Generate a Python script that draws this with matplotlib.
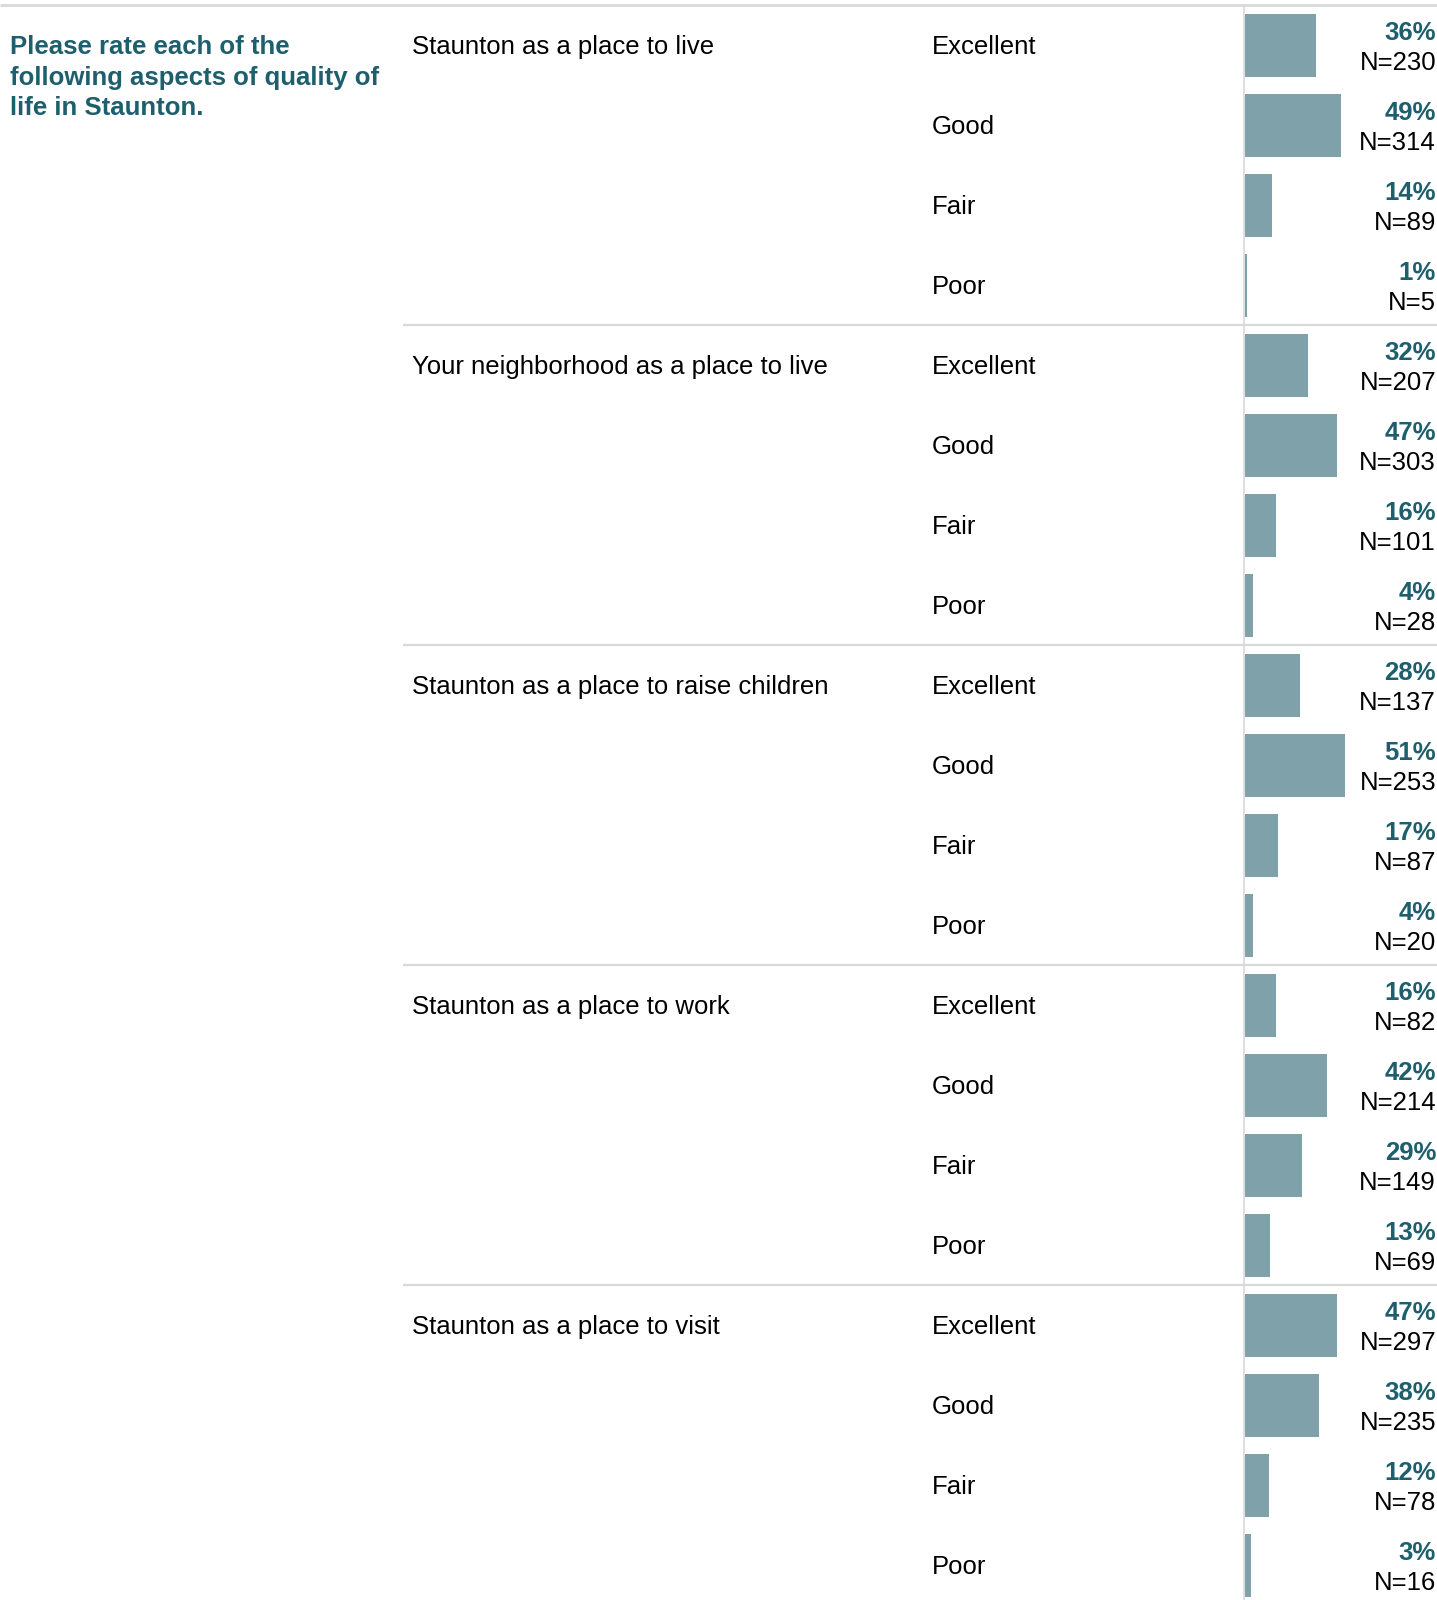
import matplotlib
matplotlib.use("Agg")
import matplotlib.pyplot as plt

plt.rcParams['font.family'] = ['Liberation Sans', 'DejaVu Sans']

title_lines = ["Please rate each of the",
               "following aspects of quality of",
               "life in Staunton."]

questions = [
    "Staunton as a place to live",
    "Your neighborhood as a place to live",
    "Staunton as a place to raise children",
    "Staunton as a place to work",
    "Staunton as a place to visit",
]
ratings = ["Excellent", "Good", "Fair", "Poor"]

pct = [
    [36, 49, 14, 1],
    [32, 47, 16, 4],
    [28, 51, 17, 4],
    [16, 42, 29, 13],
    [47, 38, 12, 3],
]
counts = [
    [230, 314, 89, 5],
    [207, 303, 101, 28],
    [137, 253, 87, 20],
    [82, 214, 149, 69],
    [297, 235, 78, 16],
]

W, H = 1437, 1600
BAR_COLOR = "#7fa2aa"
TEAL = "#1d5f6d"
GRID = "#d9d9d9"
FS = 18.5

TOP = 5       # y of the top rule
ROW = 80      # pixel height of one answer row
BAR_H = 63

fig = plt.figure(figsize=(W / 100, H / 100), dpi=100)

# full-figure axes in pixel units for texts and rules
ax = fig.add_axes([0, 0, 1, 1])
ax.set_xlim(0, W)
ax.set_ylim(H, 0)
ax.axis("off")

# bar axes: 0..100 % spans 196 px starting at the vertical rule
x0 = 1245
bx = fig.add_axes([x0 / W, 0, 196 / W, 1])
bx.set_xlim(0, 100)
bx.set_ylim(H, 0)
bx.axis("off")

for k, line in enumerate(title_lines):
    ax.text(10, 54 + k * 30.5, line, fontsize=FS, fontweight="bold", color=TEAL,
            ha="left", va="baseline")

ax.plot([0, W], [TOP, TOP], color=GRID, lw=2, solid_capstyle="butt")
ax.plot([x0 - 1, x0 - 1], [TOP, H], color=GRID, lw=1.2)

for g, q in enumerate(questions):
    g_top = TOP + g * 4 * ROW
    if g > 0:
        ax.plot([403, W], [g_top, g_top], color=GRID, lw=1.6, solid_capstyle="butt")
    ax.text(412, g_top + ROW / 2 + 9, q, fontsize=FS, color="black", ha="left", va="baseline")
    ys = [g_top + ROW / 2 + i * ROW for i in range(4)]
    bx.barh(ys, pct[g], height=BAR_H, color=BAR_COLOR, left=0)
    for i, r in enumerate(ratings):
        y = ys[i]
        ax.text(932, y + 9, r, fontsize=FS, color="black", ha="left", va="baseline")
        ax.text(1436, y - 5, f"{pct[g][i]}%", fontsize=FS, fontweight="bold",
                color=TEAL, ha="right", va="baseline")
        ax.text(1436, y + 25, f"N={counts[g][i]}", fontsize=FS, color="black",
                ha="right", va="baseline")

fig.savefig("out.png", dpi=100)
